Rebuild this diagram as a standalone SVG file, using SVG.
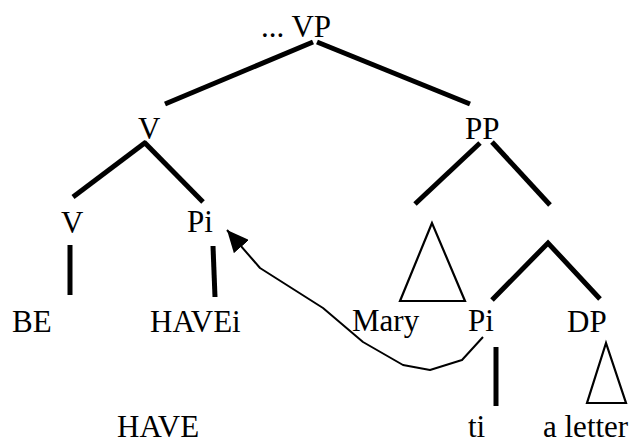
<svg xmlns="http://www.w3.org/2000/svg" width="630" height="444" viewBox="0 0 630 444">
<style>
text{font-family:"Liberation Serif","Times New Roman",serif;font-size:31px;fill:#000}
.b{stroke:#000;stroke-width:5;fill:none}
.t{stroke:#000;stroke-width:2.2;fill:none;stroke-linejoin:miter}
.m{stroke:#000;stroke-width:2;fill:none;stroke-linejoin:round}
</style>
<defs>
<marker id="ah" viewBox="0 0 22 20" refX="22" refY="10" markerWidth="22" markerHeight="20" markerUnits="userSpaceOnUse" orient="auto">
<path d="M0,0 L22,10 L0,20 z" fill="#000"/>
</marker>
</defs>
<rect width="630" height="444" fill="#fff"/>
<g id="VP"><text x="261" y="37">... VP</text></g>
<g id="V1"><text x="138" y="139">V</text></g>
<g id="PP"><text x="465" y="139">PP</text></g>
<g id="V2"><text x="61" y="233">V</text></g>
<g id="Pi1"><text x="187" y="232">Pi</text></g>
<g id="BE"><text x="12" y="332">BE</text></g>
<g id="HAVEi"><text x="150" y="332">HAVEi</text></g>
<g id="Mary"><text x="352" y="331">Mary</text><polygon class="t" points="432,223 400,301 465,301"/></g>
<g id="Pi2"><text x="468" y="331">Pi</text></g>
<g id="DP"><text x="567" y="332">DP</text><polygon class="t" points="606,343 587,403 626,403"/></g>
<g id="HAVE"><text x="117" y="437">HAVE</text></g>
<g id="ti"><text x="468" y="437">ti</text></g>
<g id="aletter"><text x="543" y="437">a letter</text></g>
<g id="connectors">
<line class="b" x1="313" y1="42" x2="165" y2="104"/>
<line class="b" x1="317" y1="42" x2="470" y2="104"/>
<line class="b" x1="146" y1="142" x2="73" y2="197"/>
<line class="b" x1="144" y1="142" x2="203" y2="202"/>
<line class="b" x1="70" y1="245" x2="70" y2="295"/>
<line class="b" x1="213" y1="246" x2="215" y2="297"/>
<line class="b" x1="480" y1="143" x2="415" y2="204"/>
<line class="b" x1="492" y1="142" x2="550" y2="205"/>
<polyline class="b" points="492,300 548,243 600,299"/>
<line class="b" x1="496" y1="347" x2="496" y2="406"/>
<path class="m" d="M483,337 L462,360 L430,370 L403,365 L363,342 L323,308 L260,268 L227,230" marker-end="url(#ah)"/>
</g>
</svg>
